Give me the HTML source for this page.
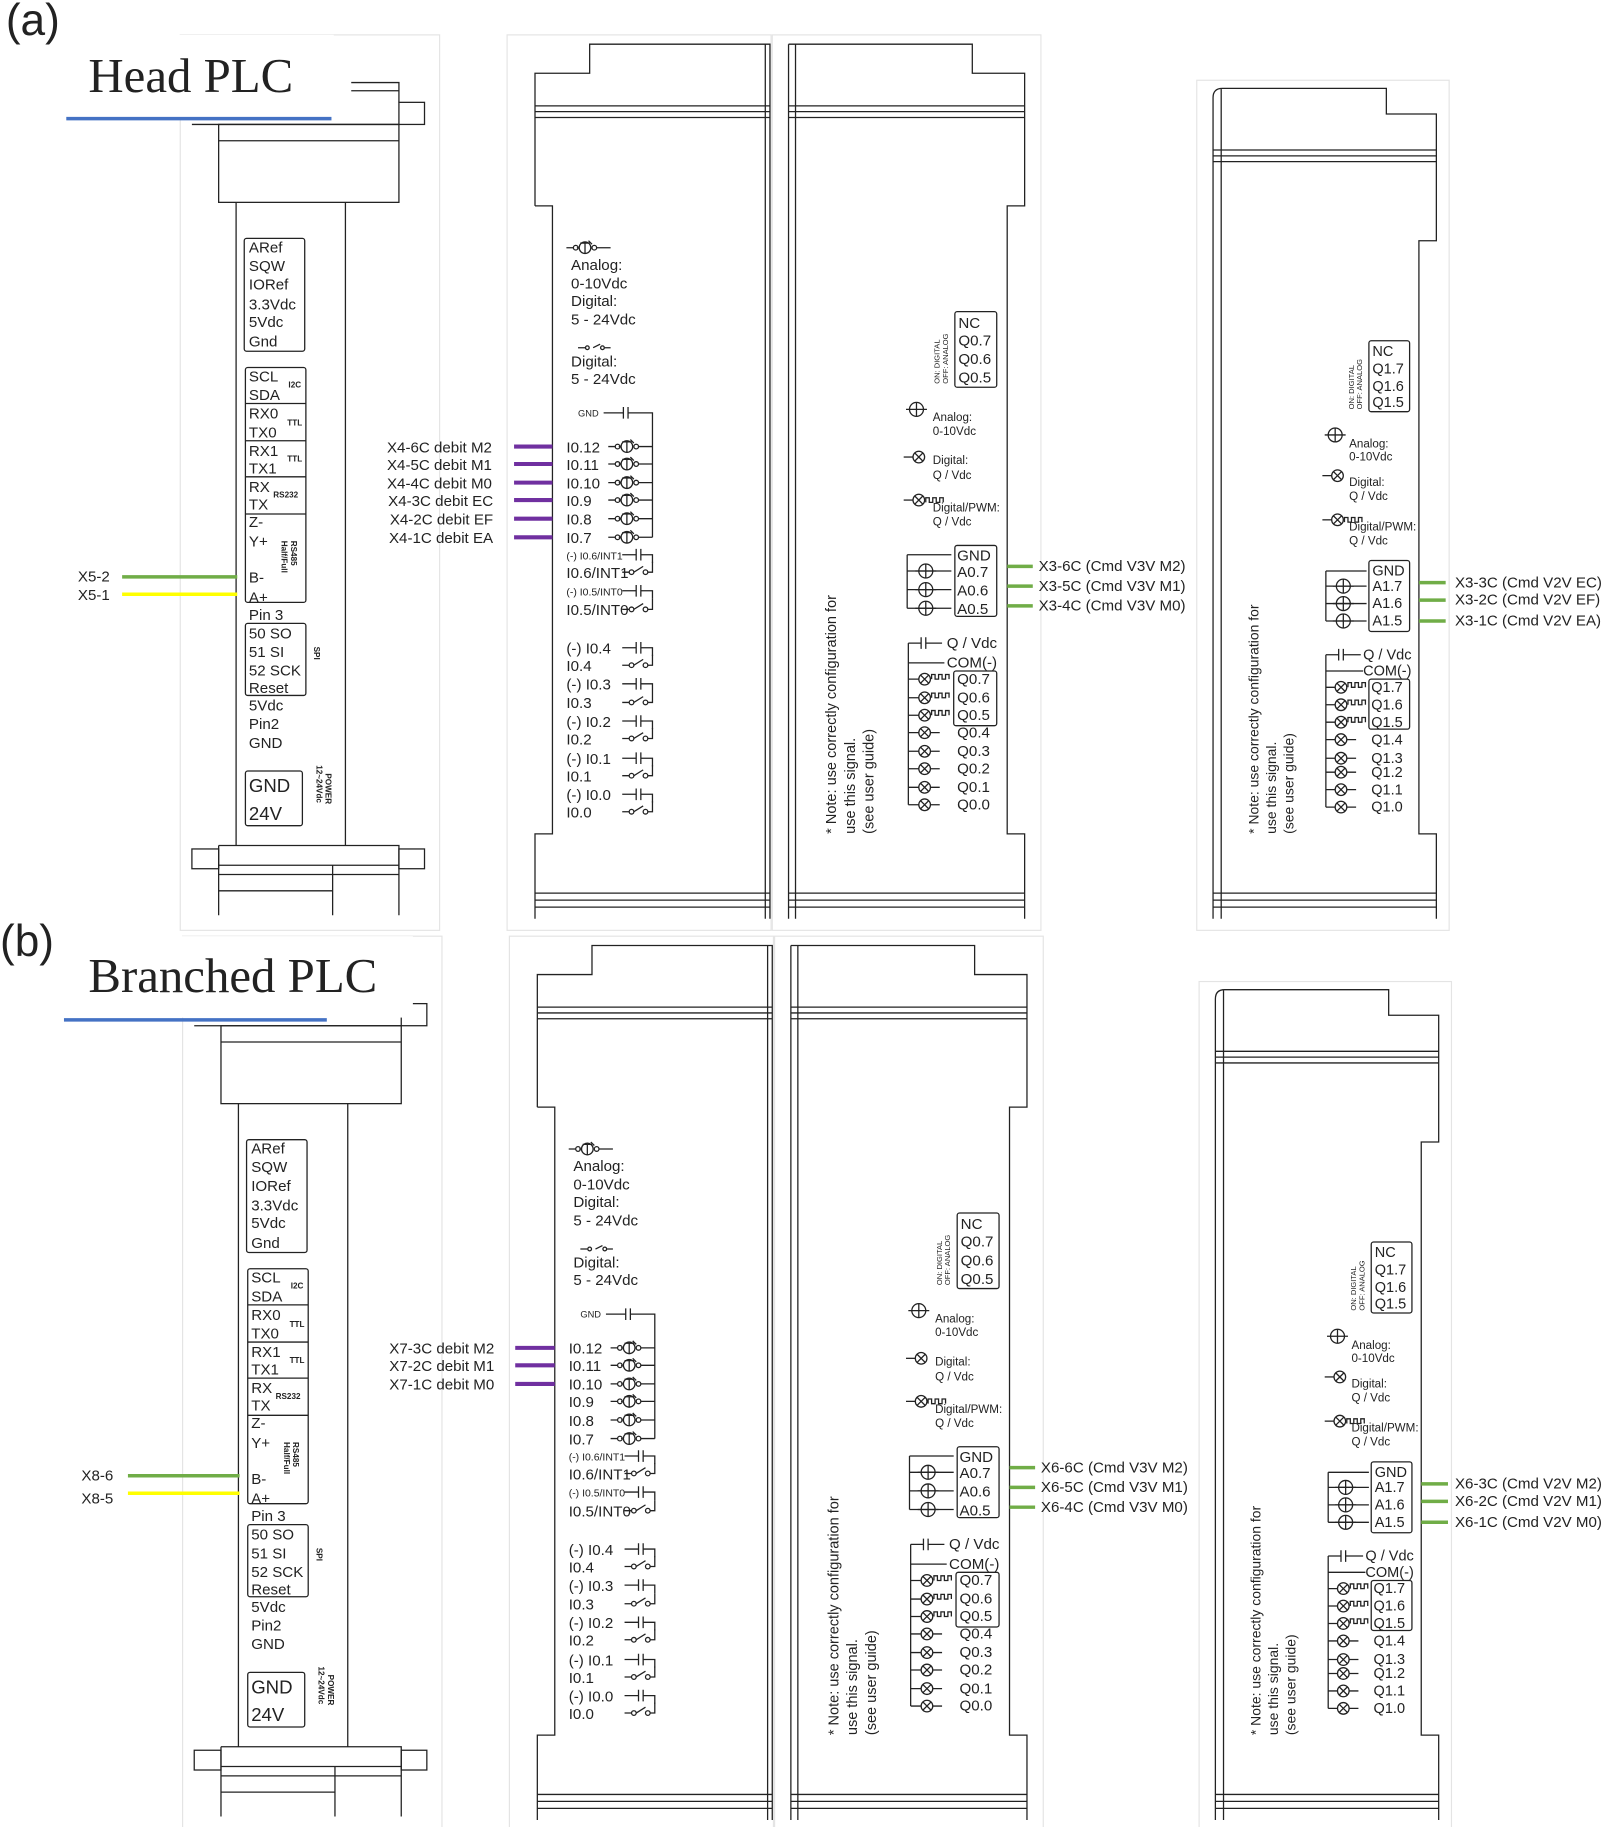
<!DOCTYPE html>
<html><head><meta charset="utf-8"><style>
html,body{margin:0;padding:0;background:#fff;}
svg{display:block;}
text{font-family:"Liberation Sans",Arial,sans-serif;fill:#222;}
.g{fill:#555;}
.s{fill:none;stroke:#222;stroke-width:1.1;}
.f{fill:none;stroke:#e4e4e4;stroke-width:1;}
</style></head><body>
<svg width="1605" height="1827" viewBox="0 0 1380 1571" preserveAspectRatio="none" xmlns="http://www.w3.org/2000/svg">
<defs>
<g id="inp" class="s"><path d="M0 0H6M10 0H9M26 0H38"/><circle cx="8" cy="0" r="2"/><circle cx="16" cy="0" r="5"/><path d="M12 -4H20M16 -4V5M19 -6L22 -3"/><circle cx="24" cy="0" r="2"/></g>
<g id="cap" class="s"><path d="M0 0H12M12 -5V5M16 -5V5M16 0H26V7"/></g>
<g id="sw" class="s"><path d="M0 0H6M10 0L18 -5M22 0H26V-9"/><circle cx="8" cy="0" r="2"/><circle cx="20" cy="0" r="2"/></g>
<g id="ox" class="s"><circle cx="0" cy="0" r="5"/><path d="M-3.5 -3.5L3.5 3.5M-3.5 3.5L3.5 -3.5"/></g>
<g id="op" class="s"><circle cx="0" cy="0" r="6"/><path d="M-9 0H9M0 -6V6"/></g>
<g id="pw" class="s"><path d="M0 1V-3H3V1H6V-3H9V1H12V-3H15V1"/></g>

<g id="panel">
<rect class="f" x="155" y="30" width="223" height="770"/>
<rect class="f" x="436" y="30" width="227" height="770"/>
<rect class="f" x="664" y="30" width="231" height="770"/>
<rect class="f" x="1029" y="69" width="217" height="731"/>

<g class="s">
<path d="M302 71H343V88M302 78H343"/>
<rect x="343" y="88" width="22" height="19"/>
<path d="M165 107H343"/>
<rect x="188" y="107" width="155" height="67"/>
<path d="M188 121H343"/>
<path d="M203 174V727M297 174V727"/>
<rect x="165" y="730" width="23" height="17"/>
<rect x="343" y="730" width="22" height="17"/>
<path d="M188 727H343V787M188 727V787M188 744H343M188 752H343M286 744V787M188 766H286"/>
<rect x="210" y="205" width="52" height="97" rx="2"/>
<rect x="211" y="316" width="52" height="202" rx="2"/>
<path d="M211 347H263M211 379H263M211 410H263M211 442H263"/>
<rect x="211" y="536" width="52" height="62" rx="2"/>
<rect x="211" y="663" width="49" height="47" rx="2"/>
</g>
<g class="g" font-size="13">
<text x="214" y="217">ARef</text><text x="214" y="233">SQW</text><text x="214" y="249">IORef</text>
<text x="214" y="266">3.3Vdc</text><text x="214" y="281">5Vdc</text><text x="214" y="298">Gnd</text>
<text x="214" y="328">SCL</text><text x="214" y="344">SDA</text><text x="214" y="360">RX0</text><text x="214" y="376">TX0</text>
<text x="214" y="392">RX1</text><text x="214" y="407">TX1</text><text x="214" y="423">RX</text><text x="214" y="438">TX</text>
<text x="214" y="453">Z-</text><text x="214" y="470">Y+</text><text x="214" y="501">B-</text><text x="214" y="518">A+</text>
<text x="214" y="533">Pin 3</text>
<text x="214" y="549">50 SO</text><text x="214" y="565">51 SI</text><text x="214" y="581">52 SCK</text><text x="214" y="596">Reset</text>
<text x="214" y="611">5Vdc</text><text x="214" y="627">Pin2</text><text x="214" y="643">GND</text>
<text x="214" y="681" font-size="16">GND</text><text x="214" y="705" font-size="16">24V</text>
</g>
<g font-size="7" font-weight="bold">
<text x="248" y="333">I2C</text><text x="247" y="366">TTL</text><text x="247" y="397">TTL</text><text x="235" y="428">RS232</text>
<text transform="translate(250,465) rotate(90)">RS485</text><text transform="translate(242,465) rotate(90)">Half/Full</text>
<text transform="translate(270,556) rotate(90)">SPI</text>
<text transform="translate(280,665) rotate(90)">POWER</text><text transform="translate(272,658) rotate(90)">12~24Vdc</text>
</g>

<path class="s" d="M460 177V63H507V38H662V790M658 38V790M460 177H475V717H460V790M460 91H662M460 96H662M460 101H662M460 768H662M460 774H662M460 780H662"/>
<use href="#inp" x="487" y="213"/>
<g font-size="13"><text x="491" y="232">Analog:</text><text x="491" y="248">0-10Vdc</text><text x="491" y="263">Digital:</text><text x="491" y="279">5 - 24Vdc</text>
<text x="491" y="315">Digital:</text><text x="491" y="330">5 - 24Vdc</text></g>
<g class="s"><path d="M497 299H503M510 299L516 296M520 299H525"/><circle cx="505" cy="299" r="1.6"/><circle cx="518" cy="299" r="1.6"/>
<path d="M519 355H536M536 350V360M540 350V360M540 355H561V462"/></g>
<text x="497" y="358" font-size="8">GND</text>
<g font-size="13">
<text x="487" y="389">I0.12</text><text x="487" y="404">I0.11</text><text x="487" y="420">I0.10</text><text x="487" y="435">I0.9</text><text x="487" y="451">I0.8</text><text x="487" y="467">I0.7</text>
<text x="487" y="497">I0.6/INT1</text><text x="487" y="529">I0.5/INT0</text>
<text x="487" y="562">(-) I0.4</text><text x="487" y="577">I0.4</text><text x="487" y="593">(-) I0.3</text><text x="487" y="609">I0.3</text>
<text x="487" y="625">(-) I0.2</text><text x="487" y="640">I0.2</text><text x="487" y="657">(-) I0.1</text><text x="487" y="672">I0.1</text>
<text x="487" y="688">(-) I0.0</text><text x="487" y="703">I0.0</text>
</g>
<g font-size="9"><text x="487" y="481">(-) I0.6/INT1</text><text x="487" y="512">(-) I0.5/INT0</text></g>
<use href="#inp" x="523" y="384"/><use href="#inp" x="523" y="399"/><use href="#inp" x="523" y="415"/>
<use href="#inp" x="523" y="430"/><use href="#inp" x="523" y="446"/><use href="#inp" x="523" y="462"/>
<use href="#cap" x="535" y="477"/><use href="#sw" x="535" y="492"/>
<use href="#cap" x="535" y="508"/><use href="#sw" x="535" y="524"/>
<use href="#cap" x="535" y="557"/><use href="#sw" x="535" y="572"/>
<use href="#cap" x="535" y="588"/><use href="#sw" x="535" y="604"/>
<use href="#cap" x="535" y="620"/><use href="#sw" x="535" y="635"/>
<use href="#cap" x="535" y="652"/><use href="#sw" x="535" y="667"/>
<use href="#cap" x="535" y="683"/><use href="#sw" x="535" y="698"/>

<path class="s" d="M678 38V790M684 38V790M678 38H836V63H881V177H866V717H881V790M678 91H881M678 96H881M678 101H881M678 768H881M678 774H881M678 780H881"/>
<rect class="s" x="821" y="268" width="36" height="65" rx="2"/>
<g font-size="13"><text x="824" y="282">NC</text><text x="824" y="297">Q0.7</text><text x="824" y="313">Q0.6</text><text x="824" y="329">Q0.5</text></g>
<g font-size="6.5"><text transform="translate(808,330) rotate(-90)">ON: DIGITAL</text><text transform="translate(815,330) rotate(-90)">OFF: ANALOG</text></g>
<use href="#op" x="788" y="352"/><use href="#ox" x="790" y="393"/><path class="s" d="M777 393H785"/>
<use href="#ox" x="790" y="430"/><path class="s" d="M777 430H785"/><use href="#pw" x="796" y="431"/>
<g font-size="10"><text x="802" y="362">Analog:</text><text x="802" y="374">0-10Vdc</text><text x="802" y="399">Digital:</text><text x="802" y="412">Q / Vdc</text>
<text x="802" y="440">Digital/PWM:</text><text x="802" y="452">Q / Vdc</text></g>
<rect class="s" x="821" y="469" width="36" height="61" rx="2"/>
<g font-size="13"><text x="823" y="482">GND</text><text x="823" y="496">A0.7</text><text x="823" y="512">A0.6</text><text x="823" y="528">A0.5</text></g>
<path class="s" d="M780 477H818M780 477V523M780 491H818M780 507H818M780 523H818"/>
<use href="#op" x="796" y="491"/><use href="#op" x="796" y="507"/><use href="#op" x="796" y="523"/>
<path class="s" d="M781 553V692M781 553H792M792 548V558M796 548V558M796 553H810M781 570H812"/>
<g font-size="13"><text x="814" y="557">Q / Vdc</text><text x="814" y="574">COM(-)</text>
<text x="823" y="588">Q0.7</text><text x="823" y="604">Q0.6</text><text x="823" y="619">Q0.5</text><text x="823" y="634">Q0.4</text>
<text x="823" y="650">Q0.3</text><text x="823" y="665">Q0.2</text><text x="823" y="681">Q0.1</text><text x="823" y="696">Q0.0</text></g>
<rect class="s" x="820" y="577" width="37" height="47" rx="2"/>
<g class="s"><path d="M781 584H790M781 600H790M781 615H790M781 630H790M781 646H790M781 661H790M781 677H790M781 692H790M800 630H808M800 646H808M800 661H808M800 677H808M800 692H808"/></g>
<use href="#ox" x="795" y="584"/><use href="#ox" x="795" y="600"/><use href="#ox" x="795" y="615"/><use href="#ox" x="795" y="630"/>
<use href="#ox" x="795" y="646"/><use href="#ox" x="795" y="661"/><use href="#ox" x="795" y="677"/><use href="#ox" x="795" y="692"/>
<use href="#pw" x="801" y="583"/><use href="#pw" x="801" y="599"/><use href="#pw" x="801" y="614"/>
<g font-size="12.5"><text transform="translate(719,717) rotate(-90)">* Note: use correctly configuration for</text>
<text transform="translate(735,717) rotate(-90)">use this signal.</text><text transform="translate(751,717) rotate(-90)">(see user guide)</text></g>

<path class="s" d="M1043 790V84Q1043 76 1051 76H1192V98H1235V207H1220V717H1235V790M1050 76V790M1043 129H1235M1043 134H1235M1043 139H1235M1043 768H1235M1043 774H1235M1043 780H1235"/>
<rect class="s" x="1177" y="293" width="35" height="61" rx="2"/>
<g font-size="12.5"><text x="1180" y="306">NC</text><text x="1180" y="321">Q1.7</text><text x="1180" y="336">Q1.6</text><text x="1180" y="350">Q1.5</text></g>
<g font-size="6.5"><text transform="translate(1164,352) rotate(-90)">ON: DIGITAL</text><text transform="translate(1171,352) rotate(-90)">OFF: ANALOG</text></g>
<use href="#op" x="1148" y="374"/><use href="#ox" x="1150" y="409"/><path class="s" d="M1137 409H1145"/>
<use href="#ox" x="1150" y="447"/><path class="s" d="M1137 447H1145"/><use href="#pw" x="1156" y="448"/>
<g font-size="10"><text x="1160" y="385">Analog:</text><text x="1160" y="396">0-10Vdc</text><text x="1160" y="418">Digital:</text><text x="1160" y="430">Q / Vdc</text>
<text x="1160" y="456">Digital/PWM:</text><text x="1160" y="468">Q / Vdc</text></g>
<rect class="s" x="1177" y="482" width="35" height="61" rx="2"/>
<g font-size="12.5"><text x="1180" y="495">GND</text><text x="1180" y="508">A1.7</text><text x="1180" y="523">A1.6</text><text x="1180" y="538">A1.5</text></g>
<path class="s" d="M1140 491H1175M1140 491V534M1140 504H1175M1140 519H1175M1140 534H1175"/>
<use href="#op" x="1155" y="504"/><use href="#op" x="1155" y="519"/><use href="#op" x="1155" y="534"/>
<path class="s" d="M1140 563V694M1140 563H1151M1151 558V568M1155 558V568M1155 563H1170M1140 577H1172"/>
<g font-size="12.5"><text x="1172" y="567">Q / Vdc</text><text x="1172" y="581">COM(-)</text>
<text x="1179" y="595">Q1.7</text><text x="1179" y="610">Q1.6</text><text x="1179" y="625">Q1.5</text><text x="1179" y="640">Q1.4</text>
<text x="1179" y="656">Q1.3</text><text x="1179" y="668">Q1.2</text><text x="1179" y="683">Q1.1</text><text x="1179" y="698">Q1.0</text></g>
<rect class="s" x="1177" y="584" width="35" height="43" rx="2"/>
<g class="s"><path d="M1140 591H1148M1140 606H1148M1140 621H1148M1140 636H1148M1140 652H1148M1140 664H1148M1140 679H1148M1140 694H1148M1158 636H1166M1158 652H1166M1158 664H1166M1158 679H1166M1158 694H1166"/></g>
<use href="#ox" x="1153" y="591"/><use href="#ox" x="1153" y="606"/><use href="#ox" x="1153" y="621"/><use href="#ox" x="1153" y="636"/>
<use href="#ox" x="1153" y="652"/><use href="#ox" x="1153" y="664"/><use href="#ox" x="1153" y="679"/><use href="#ox" x="1153" y="694"/>
<use href="#pw" x="1159" y="590"/><use href="#pw" x="1159" y="605"/><use href="#pw" x="1159" y="620"/>
<g font-size="12"><text transform="translate(1082,717) rotate(-90)">* Note: use correctly configuration for</text>
<text transform="translate(1097,717) rotate(-90)">use this signal.</text><text transform="translate(1112,717) rotate(-90)">(see user guide)</text></g>
</g>
</defs>

<use href="#panel"/>
<rect x="57" y="30" width="230" height="72" fill="#fff"/>
<text x="5" y="30" font-size="38">(a)</text>
<text x="76" y="79" font-size="42" style="font-family:'Liberation Serif',serif">Head PLC</text>
<path d="M57 102H285" stroke="#4472c4" stroke-width="3"/>
<path d="M105 496H204" stroke="#70ad47" stroke-width="3"/>
<path d="M105 511H204" stroke="#ffff00" stroke-width="3"/>
<g font-size="13"><text x="67" y="500">X5-2</text><text x="67" y="516">X5-1</text></g>
<g stroke="#7030a0" stroke-width="3.5"><path d="M442 384H475M442 399H475M442 415H475M442 430H475M442 446H475M442 462H475"/></g>
<g font-size="13" text-anchor="end"><text x="423" y="389">X4-6C debit M2</text><text x="423" y="404">X4-5C debit M1</text><text x="423" y="420">X4-4C debit M0</text>
<text x="424" y="435">X4-3C debit EC</text><text x="424" y="451">X4-2C debit EF</text><text x="424" y="467">X4-1C debit EA</text></g>
<g stroke="#70ad47" stroke-width="3"><path d="M866 487H888M866 504H888M866 521H888M1220 501H1243M1220 516H1243M1220 534H1243"/></g>
<g font-size="13"><text x="893" y="491">X3-6C (Cmd V3V M2)</text><text x="893" y="508">X3-5C (Cmd V3V M1)</text><text x="893" y="525">X3-4C (Cmd V3V M0)</text>
<text x="1251" y="505">X3-3C (Cmd V2V EC)</text><text x="1251" y="520">X3-2C (Cmd V2V EF)</text><text x="1251" y="538">X3-1C (Cmd V2V EA)</text></g>

<use href="#panel" transform="translate(2,775)"/>
<rect x="55" y="805" width="300" height="70" fill="#fff"/>
<text x="0" y="822" font-size="38">(b)</text>
<text x="76" y="853" font-size="42" style="font-family:'Liberation Serif',serif">Branched PLC</text>
<path d="M55 877H281" stroke="#4472c4" stroke-width="3"/>
<path d="M110 1269H206" stroke="#70ad47" stroke-width="3"/>
<path d="M110 1284H206" stroke="#ffff00" stroke-width="3"/>
<g font-size="13"><text x="70" y="1273">X8-6</text><text x="70" y="1293">X8-5</text></g>
<g stroke="#7030a0" stroke-width="3.5"><path d="M443 1159H477M443 1174H477M443 1190H477"/></g>
<g font-size="13" text-anchor="end"><text x="425" y="1164">X7-3C debit M2</text><text x="425" y="1179">X7-2C debit M1</text><text x="425" y="1195">X7-1C debit M0</text></g>
<g stroke="#70ad47" stroke-width="3"><path d="M868 1262H890M868 1279H890M868 1296H890M1222 1276H1245M1222 1291H1245M1222 1309H1245"/></g>
<g font-size="13"><text x="895" y="1266">X6-6C (Cmd V3V M2)</text><text x="895" y="1283">X6-5C (Cmd V3V M1)</text><text x="895" y="1300">X6-4C (Cmd V3V M0)</text>
<text x="1251" y="1280">X6-3C (Cmd V2V M2)</text><text x="1251" y="1295">X6-2C (Cmd V2V M1)</text><text x="1251" y="1313">X6-1C (Cmd V2V M0)</text></g>
</svg>
</body></html>
